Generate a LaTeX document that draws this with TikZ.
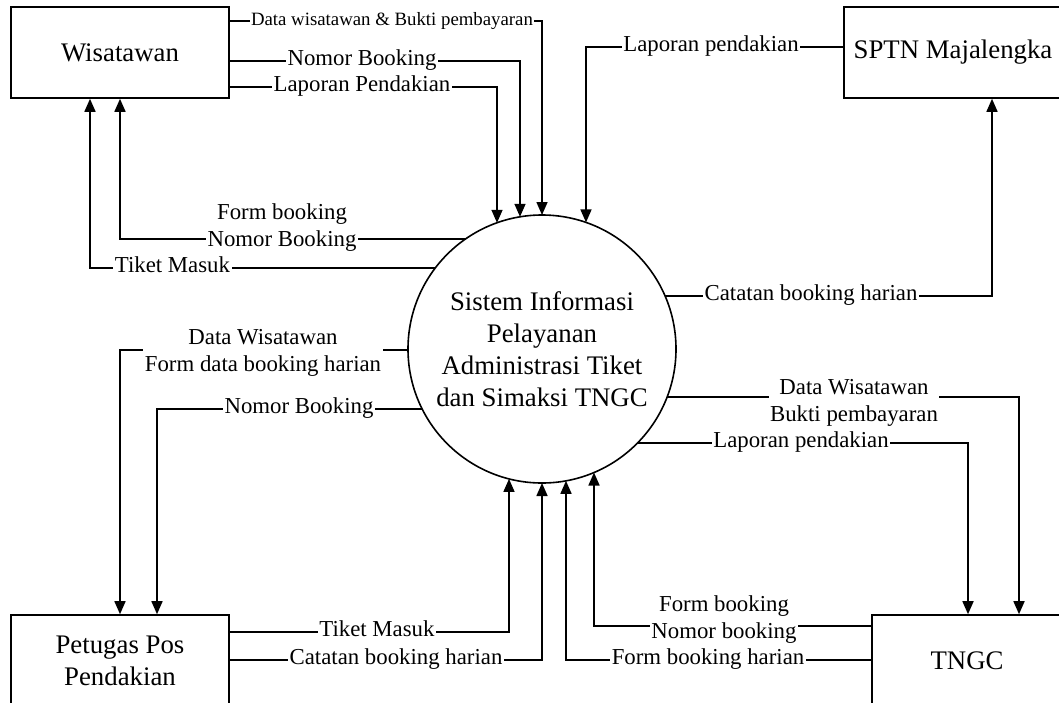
\documentclass[tikz,border=0pt]{standalone}
\usepackage{fontspec}
\setmainfont{Liberation Serif}
\usetikzlibrary{arrows.meta,calc}
\begin{document}
\begin{tikzpicture}[x=1pt,y=-1pt,
  ent/.style={draw, line width=1.6pt, minimum width=218pt, minimum height=91pt, inner sep=0pt,
              font=\fontsize{26.8}{32}\selectfont, align=center},
  proc/.style={draw, circle, line width=1.6pt, minimum size=268pt, inner sep=0pt,
              font=\fontsize{26.8}{32}\selectfont, align=center},
  lbl/.style={fill=white, inner sep=1.5pt, font=\fontsize{22.8}{27}\selectfont, align=center},
  slbl/.style={lbl, font=\fontsize{18.8}{22}\selectfont},
  flow/.style={line width=1.6pt, -{Triangle[width=11pt,length=13pt]}}]
\useasboundingbox (0,0) rectangle (1059,702);
\clip (0,0) rectangle (1059,702);

% entities and process
\node[ent] (wis) at (120,52.5) {Wisatawan};
\node[ent] (sptn) at (953,52.5) {SPTN Majalengka};
\node[ent] (pet) at (120,660.5) {Petugas Pos\\Pendakian};
\node[ent, minimum width=190pt] (tngc) at (967,660.5) {TNGC};
\node[proc] (c) at (542,349) {Sistem Informasi\\Pelayanan\\Administrasi Tiket\\dan Simaksi TNGC};

% flows into the process from the top
\draw[flow] ($(wis.east)+(0,-31.5)$) -| ($(c.center)+(0,-134)$);
\draw[flow] ($(wis.east)+(0,8.5)$) -| ($(c.center)+(-22,-132.2)$);
\draw[flow] ($(wis.east)+(0,34.5)$) -| ($(c.center)+(-45,-126.2)$);
\draw[flow] ($(sptn.west)+(0,-5.5)$) -| ($(c.center)+(44,-126.6)$);
% flows out to the left
\draw[flow] ($(c.center)+(-76.5,-110)$) -| (wis.south);
\draw[flow] ($(c.center)+(-106.7,-81)$) -| ($(wis.south)+(-30,0)$);
\draw[flow] ($(c.center)+(-134,1)$) -| (pet.north);
\draw[flow] ($(c.center)+(-119.8,60)$) -| ($(pet.north)+(37,0)$);
% flows out to the right
\draw[flow] ($(c.center)+(123.1,-53)$) -| ($(sptn.south)+(39,0)$);
\draw[flow] ($(c.center)+(125.1,48)$) -| ($(tngc.north)+(52,0)$);
\draw[flow] ($(c.center)+(95.5,94)$) -| ($(tngc.north)+(1,0)$);
% flows into the process from the bottom
\draw[flow] ($(pet.east)+(0,-28.5)$) -| ($(c.center)+(-33,129.9)$);
\draw[flow] ($(pet.east)+(0,-0.5)$) -| ($(c.center)+(0,134)$);
\draw[flow] ($(tngc.west)+(0,-34.5)$) -| ($(c.center)+(52,123.5)$);
\draw[flow] ($(tngc.west)+(0,-0.5)$) -| ($(c.center)+(24,131.8)$);

% labels
\node[slbl, anchor=mid] (l1) at (392,23) {Data wisatawan \& Bukti pembayaran};
\node[lbl, anchor=mid] (l2) at (362,63) {Nomor Booking};
\node[lbl, anchor=mid] (l3) at (362,89) {Laporan Pendakian};
\node[lbl, anchor=mid] (l4) at (711,49) {Laporan pendakian};
\node[lbl] (l5) at (282,228) {Form booking\\Nomor Booking};
\node[lbl, anchor=mid] (l6) at (172.5,270) {Tiket Masuk};
\node[lbl] (l7) at (263,353) {Data Wisatawan\\Form data booking harian};
\node[lbl, anchor=mid] (l8) at (299,411) {Nomor Booking};
\node[lbl, anchor=mid] (l9) at (811,298) {Catatan booking harian};
\node[lbl] (l10) at (854,403) {Data Wisatawan\\Bukti pembayaran};
\node[lbl, anchor=mid] (l11) at (801,445) {Laporan pendakian};
\node[lbl, anchor=mid] (l12) at (377,634) {Tiket Masuk};
\node[lbl, anchor=mid] (l13) at (396,662) {Catatan booking harian};
\node[lbl, anchor=mid] (l14) at (708,662) {Form booking harian};
\node[lbl] (l15) at (724,620) {Form booking\\Nomor booking};
\end{tikzpicture}
\end{document}
